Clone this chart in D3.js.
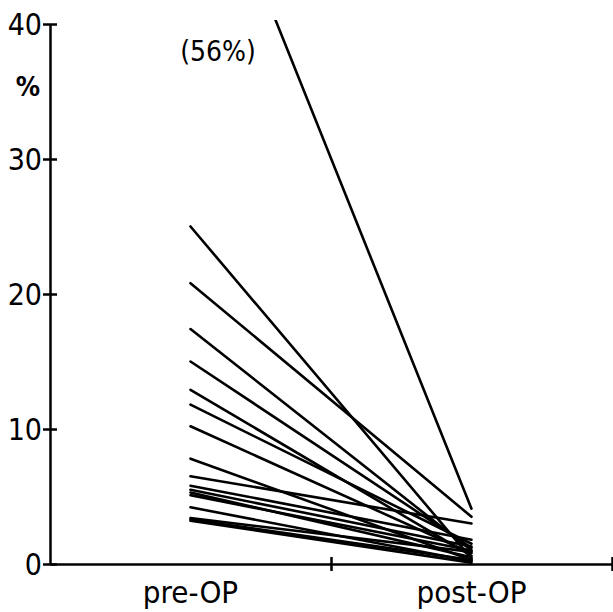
<!DOCTYPE html>
<html lang="en">
<head>
<meta charset="utf-8">
<title>pre-OP / post-OP</title>
<style>
body{
  margin: 0;
  background: #fff;
}
svg text{
  font-family: "DejaVu Sans Condensed", "Liberation Sans Narrow", sans-serif;
  fill: #000;
}
.axis path, .axis line{
  fill: none;
  stroke: #000;
  stroke-width: 2.5;
}
.axis text{
  font-size: 30px;
}
</style>
<script src="https://cdnjs.cloudflare.com/ajax/libs/d3/7.8.5/d3.min.js"></script>
</head>
<body>
<div id="chart"></div>
<script>
// categories on the x axis
var groups = ['pre-OP', 'post-OP'];
// one value per patient, before and after the operation (%)
var preValues  = [56, 25.0, 20.8, 17.4, 15.0, 12.9, 11.8, 10.2, 7.8, 6.5, 5.8, 5.5, 5.3, 5.1, 4.2, 3.4, 3.3, 3.2];
var postValues = [4.1, 0.4, 3.5, 1.0, 1.2, 0.6, 1.5, 0.8, 0.3, 3.0, 1.8, 1.3, 0.5, 1.0, 0.2, 0.9, 0.3, 0.1];
var yTicks = [0, 10, 20, 30, 40];
var offLabel = '(56%)';

var width = 613, height = 612;

var svg = d3.select('#chart')
  .append('svg')
  .attr('width', width)
  .attr('height', height);

/* x: two bands between the y axis and the right edge */
var xScale = d3.scaleBand()
  .domain(groups)
  .range([50, 612]);

var yScale = d3.scaleLinear()
  .domain([0, 40])
  .range([564, 24]);

svg.append('clipPath')
  .attr('id', 'plot')
  .append('rect')
  .attr('x', 50)
  .attr('y', 20)
  .attr('width', 570)
  .attr('height', 560);

var pairs = preValues.map(function(v, i) { return [v, postValues[i]]; });

var line = d3.line()
  .x(function(d, i) { return xScale(groups[i]) + xScale.bandwidth() / 2; })
  .y(function(d) { return yScale(d); });

svg.append('g')
  .attr('clip-path', 'url(#plot)')
  .selectAll('path')
  .data(pairs)
  .enter()
  .append('path')
  .attr('d', line)
  .style('fill', 'none')
  .style('stroke', '#000')
  .style('stroke-width', 2.6)
  .style('stroke-linecap', 'round');

/* y axis, ticks cross the line */
var yAxis = svg.append('g')
  .attr('class', 'axis')
  .attr('transform', 'translate(50,0)')
  .call(d3.axisLeft(yScale).tickValues(yTicks).tickSize(7).tickPadding(2).tickSizeOuter(0));
yAxis.selectAll('.tick line').attr('x2', 7).attr('x1', -7);
yAxis.selectAll('.tick text').attr('dy', '0.36em').attr('x', -8);

/* x axis with ticks at the band edges */
var xEdges = d3.scaleLinear().domain([0, 2]).range([50, 612]);
var xAxis = svg.append('g')
  .attr('class', 'axis')
  .attr('transform', 'translate(0,' + yScale(0) + ')')
  .call(d3.axisBottom(xEdges).tickValues([1, 2]).tickSize(7).tickFormat('').tickSizeOuter(0));
xAxis.selectAll('.tick line').attr('y1', -7).attr('y2', 7);

svg.selectAll('.xlabel')
  .data(groups)
  .enter()
  .append('text')
  .attr('class', 'xlabel')
  .attr('x', function(d) { return xScale(d) + xScale.bandwidth() / 2; })
  .attr('y', 603)
  .attr('text-anchor', 'middle')
  .style('font-size', '31px')
  .text(function(d) { return d; });

svg.append('text')
  .attr('x', 28)
  .attr('y', 96)
  .attr('text-anchor', 'middle')
  .style('font-size', '27px')
  .style('font-weight', 'bold')
  .text('%');

svg.append('text')
  .attr('x', 218)
  .attr('y', 61)
  .attr('text-anchor', 'middle')
  .style('font-size', '28px')
  .text(offLabel);
</script>
</body>
</html>
